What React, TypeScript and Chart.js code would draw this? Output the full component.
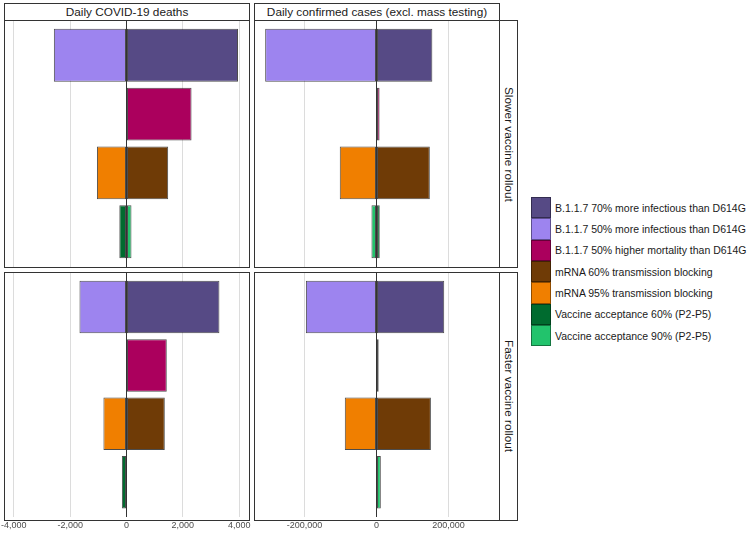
import React, { useEffect, useRef } from "react";
import { Chart, registerables } from "chart.js";

Chart.register(...registerables);

// ---------- data ----------
const scenarios = [
  "B.1.1.7 70% more infectious than D614G",
  "B.1.1.7 50% more infectious than D614G",
  "B.1.1.7 50% higher mortality than D614G",
  "mRNA 60% transmission blocking",
  "mRNA 95% transmission blocking",
  "Vaccine acceptance 60% (P2-P5)",
  "Vaccine acceptance 90% (P2-P5)",
];
const scenarioColors = ["#564A85", "#9D84EF", "#AB005D", "#6F3B06", "#F07F00", "#006B2F", "#22C36C"];
const scenarioRow = [1, 1, 2, 3, 3, 4, 4];
const rowPositions = [1, 2, 3, 4];

const outcomes = ["Daily COVID-19 deaths", "Daily confirmed cases (excl. mass testing)"];
const rollouts = ["Slower vaccine rollout", "Faster vaccine rollout"];

const deathsSlower = [3960, -2580, 2310, 1480, -1050, -255, 177];
const casesSlower = [155000, -309000, 8500, 148000, -102000, 9000, -14000];
const deathsFaster = [3300, -1670, 1430, 1360, -820, -165, 0];
const casesFaster = [188000, -196000, 6000, 151000, -88000, 0, 12000];

const deathsTicks = [-4000, -2000, 0, 2000, 4000];
const casesTicks = [-200000, 0, 200000];
const deathsLimit = 4350;
const casesLimit = 340000;

// ---------- layout ----------
const FONT = "'Liberation Sans', Arial, Helvetica, sans-serif";
const PAD = 24;
const colLeft = [4, 254];
const panelW = 245;
const rowTop = [20, 272];
const panelH = [247, 248];
const BORDER = "#333333";

type PanelProps = {
  values: number[];
  ticks: number[];
  limit: number;
  showTicks: boolean;
  left: number;
  top: number;
  width: number;
  height: number;
};

function Panel({ values, ticks, limit, showTicks, left, top, width, height }: PanelProps) {
  const ref = useRef<HTMLCanvasElement>(null);
  const axisH = showTicks ? 14 : 0;
  useEffect(() => {
    if (!ref.current) return;
    const datasets = scenarios.map((s, i) => ({
      label: s,
      data: [{ x: values[i], y: scenarioRow[i] }],
      backgroundColor: scenarioColors[i],
      borderColor: "rgba(0,0,0,0.7)",
      borderWidth: 1,
      borderSkipped: false as const,
      grouped: false,
      categoryPercentage: 1,
      barPercentage: 0.9,
    }));
    const chart = new Chart(ref.current, {
      type: "bar",
      data: { datasets: datasets as any },
      options: {
        indexAxis: "y",
        animation: false,
        responsive: false,
        maintainAspectRatio: false,
        devicePixelRatio: 1,
        layout: { padding: { left: PAD, right: PAD, top: 0, bottom: 0 } },
        plugins: { legend: { display: false }, tooltip: { enabled: false } },
        scales: {
          x: {
            type: "linear",
            min: -limit,
            max: limit,
            afterBuildTicks: (s: any) => {
              s.ticks = ticks.map((v) => ({ value: v }));
            },
            grid: {
              color: (ctx: any) => (ctx.tick && ctx.tick.value === 0 ? "#333333" : "#dcdcdc"),
              drawTicks: false,
              lineWidth: 1,
            },
            border: { display: false },
            ticks: {
              display: showTicks,
              padding: 3,
              color: "#4d4d4d",
              font: { family: FONT, size: 9 },
              maxRotation: 0,
              autoSkip: false,
            },
          },
          y: {
            type: "linear",
            display: false,
            offset: false,
            min: 0.4,
            max: 4.6,
            reverse: true,
            grid: { offset: false },
            afterBuildTicks: (s: any) => {
              s.ticks = rowPositions.map((v) => ({ value: v }));
            },
          },
        },
      } as any,
    });
    return () => chart.destroy();
  }, []);
  return (
    <>
      <canvas
        ref={ref}
        width={width + 2 * PAD}
        height={height + axisH}
        style={{ position: "absolute", left: left - PAD, top, width: width + 2 * PAD, height: height + axisH }}
      />
      <div
        style={{
          position: "absolute",
          left,
          top,
          width: width + 1,
          height: height + 1,
          boxSizing: "border-box",
          border: `1px solid ${BORDER}`,
          pointerEvents: "none",
        }}
      />
    </>
  );
}

export default function App() {
  const panelData = [
    [deathsSlower, casesSlower],
    [deathsFaster, casesFaster],
  ];
  const tickSets = [deathsTicks, casesTicks];
  const limits = [deathsLimit, casesLimit];
  return (
    <div
      style={{
        position: "absolute",
        left: 0,
        top: 0,
        width: 748,
        height: 535,
        background: "#ffffff",
        overflow: "hidden",
        fontFamily: FONT,
      }}
    >
      {rollouts.map((r, ri) =>
        outcomes.map((o, ci) => (
          <Panel
            key={`${ri}-${ci}`}
            values={panelData[ri][ci]}
            ticks={tickSets[ci]}
            limit={limits[ci]}
            showTicks={ri === 1}
            left={colLeft[ci]}
            top={rowTop[ri]}
            width={panelW}
            height={panelH[ri]}
          />
        ))
      )}
      {outcomes.map((o, ci) => (
        <div
          key={o}
          style={{
            position: "absolute",
            left: colLeft[ci],
            top: 3,
            width: panelW + 1,
            height: 18,
            boxSizing: "border-box",
            border: `1px solid ${BORDER}`,
            background: "#ffffff",
            display: "flex",
            alignItems: "center",
            justifyContent: "center",
            fontSize: 11.8,
            color: "#1a1a1a",
            whiteSpace: "nowrap",
          }}
        >
          {o}
        </div>
      ))}
      {rollouts.map((r, ri) => (
        <div
          key={r}
          style={{
            position: "absolute",
            left: 499,
            top: rowTop[ri],
            width: 19,
            height: panelH[ri] + 1,
            boxSizing: "border-box",
            border: `1px solid ${BORDER}`,
            background: "#ffffff",
            display: "flex",
            alignItems: "center",
            justifyContent: "center",
          }}
        >
          <span
            style={{
              writingMode: "vertical-rl",
              fontSize: 11.8,
              color: "#1a1a1a",
              whiteSpace: "nowrap",
            }}
          >
            {r}
          </span>
        </div>
      ))}
      <div style={{ position: "absolute", left: 531, top: 197 }}>
        {scenarios.map((s, i) => (
          <div key={s} style={{ display: "flex", alignItems: "center", height: 21.33 }}>
            <div
              style={{
                width: 20,
                height: 21.33,
                boxSizing: "border-box",
                background: scenarioColors[i],
                border: "1px solid rgba(0,0,0,0.4)",
              }}
            />
            <span style={{ marginLeft: 4, fontSize: 10.5, color: "#1a1a1a", whiteSpace: "nowrap" }}>{s}</span>
          </div>
        ))}
      </div>
    </div>
  );
}
